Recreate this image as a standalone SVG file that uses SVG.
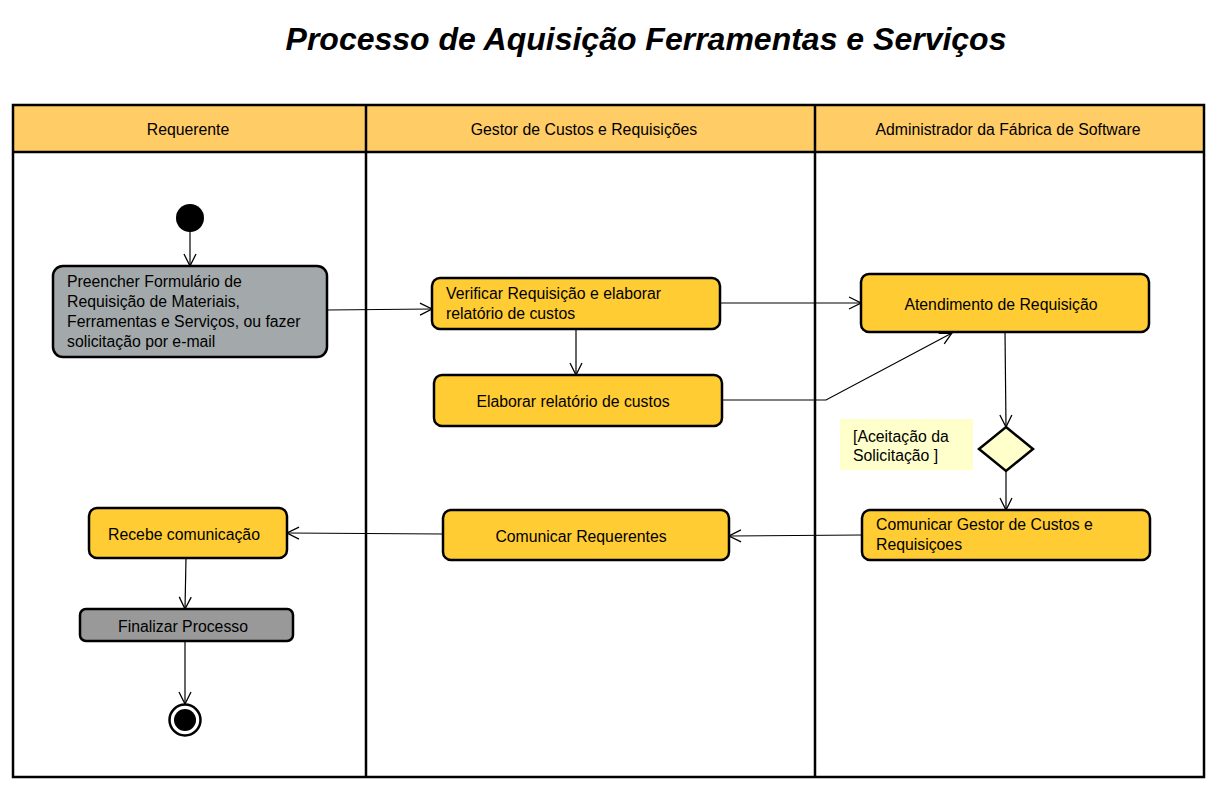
<svg xmlns="http://www.w3.org/2000/svg" width="1217" height="790" viewBox="0 0 1217 790">
<style>
text{font-family:"Liberation Sans",Arial,sans-serif;font-size:15.8px;fill:#000}
.title{font-size:32px;font-weight:bold;font-style:italic}
.hdr{font-size:15.8px}
.act{fill:#FFCC33;stroke:#000;stroke-width:2.5}
.gray{fill:#A3A9AA;stroke:#000;stroke-width:2.5}
.dgray{fill:#999999;stroke:#000;stroke-width:2.5}
.lane{fill:none;stroke:#000;stroke-width:2.5}
.conn{fill:none;stroke:#000;stroke-width:1.2;marker-end:url(#arr)}
</style>
<defs>
<marker id="arr" viewBox="0 0 14 14" refX="13" refY="7" markerWidth="14" markerHeight="14" markerUnits="userSpaceOnUse" orient="auto">
<path d="M1,1 L13,7 L1,13" fill="none" stroke="#000" stroke-width="1.3"/>
</marker>
</defs>
<rect width="1217" height="790" fill="#fff"/>
<text class="title" x="646" y="50" text-anchor="middle">Processo de Aquisição Ferramentas e Serviços</text>
<g id="pool">
<rect x="13" y="105" width="1191" height="47" fill="#FFCC66"/>
<rect class="lane" x="13" y="105" width="1191" height="672"/>
<line class="lane" x1="13" y1="152" x2="1204" y2="152"/>
<line class="lane" x1="366" y1="105" x2="366" y2="777"/>
<line class="lane" x1="815" y1="105" x2="815" y2="777"/>
<text class="hdr" x="188" y="135" text-anchor="middle">Requerente</text>
<text class="hdr" x="584" y="135" text-anchor="middle">Gestor de Custos e Requisições</text>
<text class="hdr" x="1008" y="135" text-anchor="middle">Administrador da Fábrica de Software</text>
</g>
<g id="connectors">
<line class="conn" x1="190" y1="231" x2="190" y2="266"/>
<line class="conn" x1="327" y1="310" x2="432" y2="309"/>
<line class="conn" x1="720" y1="303" x2="861" y2="303"/>
<line class="conn" x1="576" y1="329" x2="576" y2="375"/>
<polyline class="conn" points="722,400 826,400 952,333"/>
<line class="conn" x1="1005" y1="332" x2="1006" y2="427"/>
<line class="conn" x1="1006" y1="471" x2="1006" y2="510"/>
<line class="conn" x1="862" y1="535" x2="729" y2="536"/>
<line class="conn" x1="443" y1="534" x2="287" y2="533"/>
<line class="conn" x1="186" y1="558" x2="185" y2="609"/>
<line class="conn" x1="185" y1="641" x2="185" y2="704"/>
</g>
<g id="initial"><circle cx="190" cy="218" r="14" fill="#000"/></g>
<g id="preencher">
<rect class="gray" x="53" y="266" width="274" height="91" rx="10"/>
<text x="67" y="287">Preencher Formulário de</text>
<text x="67" y="307">Requisição de Materiais,</text>
<text x="67" y="327">Ferramentas e Serviços, ou fazer</text>
<text x="67" y="347">solicitação por e-mail</text>
</g>
<g id="verificar">
<rect class="act" x="432" y="278" width="288" height="51" rx="8"/>
<text x="446" y="299">Verificar Requisição e elaborar</text>
<text x="446" y="319">relatório de custos</text>
</g>
<g id="elaborar">
<rect class="act" x="434" y="375" width="288" height="51" rx="8"/>
<text x="573" y="407" text-anchor="middle">Elaborar relatório de custos</text>
</g>
<g id="atendimento">
<rect class="act" x="861" y="274" width="288" height="58" rx="8"/>
<text x="1001" y="310" text-anchor="middle">Atendimento de Requisição</text>
</g>
<g id="guard">
<rect x="840" y="419" width="133" height="51" fill="#FFFFCC"/>
<text x="853" y="442">[Aceitação da</text>
<text x="853" y="461">Solicitação ]</text>
</g>
<g id="decision">
<polygon points="1006,427 1033,449 1006,471 979,449" fill="#FFFFCC" stroke="#000" stroke-width="2.5"/>
</g>
<g id="comunicarGestor">
<rect class="act" x="862" y="510" width="288" height="50" rx="8"/>
<text x="876" y="530">Comunicar Gestor de Custos e</text>
<text x="876" y="550">Requisiçoes</text>
</g>
<g id="comunicarRequerentes">
<rect class="act" x="443" y="510" width="286" height="50" rx="8"/>
<text x="581" y="542" text-anchor="middle">Comunicar Requerentes</text>
</g>
<g id="recebe">
<rect class="act" x="89" y="508" width="198" height="50" rx="8"/>
<text x="184" y="540" text-anchor="middle">Recebe comunicação</text>
</g>
<g id="finalizar">
<rect class="dgray" x="80" y="609" width="213" height="32" rx="6"/>
<text x="183" y="632" text-anchor="middle">Finalizar Processo</text>
</g>
<g id="final">
<circle cx="185" cy="720" r="15.5" fill="#fff" stroke="#000" stroke-width="2.5"/>
<circle cx="185" cy="720" r="11" fill="#000"/>
</g>
</svg>
